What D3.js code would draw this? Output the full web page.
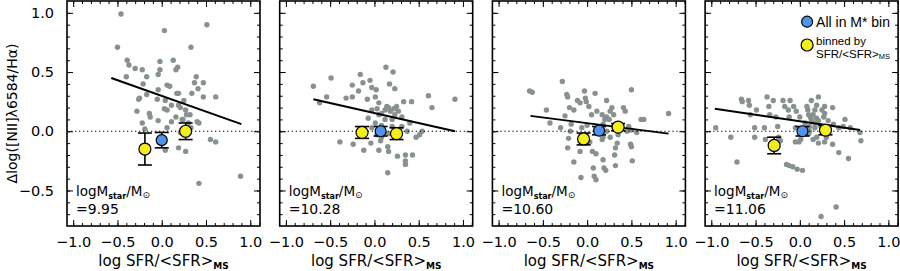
<!DOCTYPE html>
<html>
<head>
<meta charset="utf-8">
<script src="https://cdn.jsdelivr.net/npm/d3@7"></script>
<style>
body { margin: 0; background: #fff; }
</style>
</head>
<body>
<div id="chart"></div>
<script>
// svg parameters
var svgWidth = 900;
var svgHeight = 271;

var padding = {"left": 67, "top": 1};
var panelWidth = 193;
var panelHeight = 225;
var panelStep = 212.7;

// data
var massLabels = ["9.95", "10.28", "10.60", "11.06"];

var xTicks = [-1.0, -0.5, 0.0, 0.5, 1.0];
var yTicks = [-0.5, 0.0, 0.5, 1.0];

var scatter1 = [[-0.46,0.99],[-0.50,0.71],[-0.39,0.60],[-0.37,0.56],[-0.30,0.53],[-0.22,0.52],[-0.40,0.46],[-0.17,0.46],
	[-0.02,0.59],[-0.02,0.52],[0.03,0.85],[0.13,0.60],[0.16,0.52],[0.18,0.54],[0.33,0.71],[0.51,0.90],[-0.04,0.48],
	[0.06,0.39],[0.09,0.38],[-0.04,0.35],[0.19,0.32],[0.39,0.46],[0.47,0.41],[0.41,0.36],[0.61,0.29],[-0.21,0.40],
	[-0.17,0.31],[-0.25,0.28],[-0.28,0.17],[-0.14,0.15],[-0.13,0.12],[-0.04,0.09],[0.04,0.26],[0.06,0.18],[0.11,0.22],
	[0.06,0.03],[0.04,-0.16],[0.19,0.22],[0.21,0.20],[0.27,0.18],[0.28,0.14],[0.32,0.14],[0.24,0.10],[0.30,0.07],
	[0.40,0.08],[0.19,-0.14],[0.27,-0.17],[0.55,-0.07],[0.61,-0.09],[0.42,-0.44],[0.34,0.32],[0.47,0.29],[-0.19,0.02],
	[-0.22,0.07],[-0.05,0.27],[0.03,0.19],[0.17,0.32],[0.37,0.41],[0.42,0.07],[0.89,-0.38],[-0.26,0.27],[0.11,0.08],
	[0.16,0.12],[0.23,0.10],[0.21,-0.01],[0.33,0.03],[0.25,0.26]];

var scatter2 = [[-0.69,0.38],[-0.62,0.24],[-0.54,0.29],[-0.49,0.45],[-0.32,0.28],[-0.25,0.29],[-0.25,0.39],[-0.18,0.34],
	[-0.16,0.48],[-0.13,0.41],[-0.08,0.27],[-0.05,0.43],[-0.03,0.37],[0.02,0.35],[0.13,0.54],[0.21,0.50],[0.17,0.40],
	[0.23,0.36],[0.33,0.25],[0.42,0.25],[0.61,0.30],[0.65,0.20],[0.91,0.27],[-0.39,-0.09],[-0.24,-0.11],[-0.12,-0.16],
	[-0.04,-0.10],[0.05,-0.16],[0.07,-0.08],[0.15,-0.13],[0.16,-0.17],[0.26,-0.21],[0.35,-0.20],[0.35,-0.25],[0.35,-0.28],
	[0.43,-0.20],[0.15,-0.35],[0.47,-0.05],[0.51,-0.03],[0.54,0.00],[-0.03,0.18],[0.03,0.19],[0.05,0.14],[0.08,0.15],
	[0.12,0.18],[0.16,0.20],[0.18,0.17],[0.22,0.19],[0.23,0.14],[0.27,0.17],[0.31,0.12],[0.20,0.10],[0.12,0.10],
	[0.08,0.05],[0.01,0.07],[-0.07,0.11],[-0.03,0.03],[0.03,-0.03],[0.08,-0.05],[0.16,-0.02],[0.20,0.04],[0.31,0.04],
	[0.37,0.00],[0.40,0.07],[0.05,0.24],[0.14,0.21],[0.25,0.21],[0.01,0.29]];

var scatter3 = [[-0.65,0.34],[-0.62,0.33],[-0.46,0.18],[-0.42,0.07],[-0.28,0.42],[-0.23,0.31],[-0.22,0.29],[-0.20,0.20],
	[-0.15,0.18],[-0.11,0.26],[-0.08,0.24],[-0.03,0.34],[-0.02,0.28],[-0.01,0.25],[0.09,0.32],[0.50,0.35],[0.41,0.20],
	[0.43,0.17],[0.61,0.10],[0.64,0.10],[0.92,0.15],[-0.25,0.13],[-0.18,0.06],[-0.30,0.03],[-0.22,-0.14],[-0.15,-0.26],
	[-0.07,-0.39],[0.06,-0.17],[0.10,-0.19],[0.08,-0.38],[0.10,-0.41],[0.18,-0.24],[0.19,-0.31],[0.21,-0.33],[0.31,-0.20],
	[0.32,-0.14],[0.49,-0.11],[0.50,-0.13],[0.51,-0.25],[0.32,-0.29],[0.07,-0.31],[0.02,0.21],[0.05,0.14],[0.11,0.17],
	[0.17,0.14],[0.22,0.12],[0.26,0.17],[0.30,0.14],[0.25,0.10],[0.20,0.10],[0.18,0.06],[0.30,0.04],[0.00,0.05],
	[-0.06,0.03],[0.22,0.00],[0.26,-0.05],[0.18,-0.05],[0.03,-0.09],[0.17,-0.07],[0.35,-0.03],[0.45,0.00],[0.50,0.01],
	[0.56,-0.01],[0.47,0.04],[0.22,0.26],[0.28,0.20],[-0.19,0.00],[-0.21,-0.06],[0.34,-0.10],[-0.08,-0.17]];

var scatter4 = [[-0.95,0.03],[-0.78,-0.05],[-0.71,-0.26],[-0.66,0.27],[-0.65,0.25],[-0.58,0.26],[-0.57,0.22],[-0.56,0.14],
	[-0.51,0.03],[-0.51,-0.05],[-0.49,0.18],[-0.40,0.03],[-0.39,-0.07],[-0.37,0.29],[-0.35,0.21],[-0.34,0.14],[-0.30,0.26],
	[-0.27,0.12],[-0.25,0.04],[-0.24,-0.05],[-0.22,-0.08],[-0.19,0.26],[-0.17,0.21],[-0.13,0.18],[-0.11,0.26],[-0.07,0.21],
	[-0.12,0.12],[-0.15,-0.28],[-0.12,-0.29],[-0.08,-0.30],[-0.03,-0.32],[0.03,-0.33],[-0.01,-0.09],[-0.05,-0.09],
	[0.01,-0.07],[0.06,0.07],[0.08,0.21],[0.09,0.18],[0.13,0.26],[0.21,0.29],[0.28,0.21],[0.37,0.20],[0.37,-0.11],
	[0.44,-0.18],[0.51,0.10],[0.55,-0.23],[0.57,0.03],[0.68,-0.01],[0.69,-0.08],[0.24,-0.72],[0.41,-0.64],[0.28,-0.09],
	[0.30,-0.05],[0.19,-0.05],[0.15,-0.07],[0.21,-0.10],[0.10,-0.02],[0.10,0.14],[0.12,0.12],[0.13,0.10],[0.15,0.14],
	[0.19,0.11],[0.21,0.09],[0.17,0.07],[0.23,0.05],[0.27,0.12],[0.28,0.15],[0.25,0.18],[0.17,0.18],[0.19,0.22],
	[0.11,0.04],[0.17,0.03],[0.25,0.04],[0.11,0.00],[0.32,0.09],[0.38,0.06],[0.44,0.03],[0.49,0.04],[0.00,0.12],
	[-0.04,0.17],[-0.05,0.03]];

// fit line end points per panel
var fitLines = [[[-0.57,0.45],[0.90,0.06]], [[-0.69,0.27],[0.91,0.00]], [[-0.64,0.13],[0.92,-0.02]], [[-0.96,0.19],[0.68,0.01]]];

// [x, y, err]
var allBin = [[0.00,-0.075,0.065], [0.07,0.00,0.04], [0.135,0.005,0.035], [0.03,0.00,0.04]];
var sfrBins = [
	[[-0.19,-0.15,0.135], [0.27,0.00,0.07]],
	[[-0.14,-0.01,0.05], [0.25,-0.02,0.05]],
	[[-0.04,-0.065,0.05], [0.35,0.035,0.03]],
	[[-0.29,-0.12,0.07], [0.29,0.01,0.04]]
];

var scatters = [scatter1, scatter2, scatter3, scatter4];

var xMinor = d3.range(-10, 12).map(function(d) { return d / 10; });
var yMinor = d3.range(-7, 11).map(function(d) { return d / 10; });

var gray = "#879290";
var blue = "#4f94ec";
var yellow = "#f4ef1c";
var tickFont = "DejaVu Sans";
var textFont = "Liberation Sans";

var svg = d3.select("#chart").append("svg")
	.attr("width", svgWidth)
	.attr("height", svgHeight);

var xScale = d3.scaleLinear().domain([-1.07, 1.11]).range([0, panelWidth]);
var yScale = d3.scaleLinear().domain([-0.8, 1.1]).range([panelHeight, 0]);

var line = d3.line()
	.x(function(d) { return xScale(d[0]); })
	.y(function(d) { return yScale(d[1]); });

function styleAxis(a) {
	a.select(".domain").remove();
	a.selectAll("line").attr("stroke", "black").attr("stroke-width", 1);
	a.attr("font-family", tickFont).attr("font-size", 14.5);
	a.selectAll("text").attr("fill", "black");
}

function drawErr(g, d, r, fill) {
	var cap = 7;
	var bar = g.append("g");
	bar.append("line")
		.attr("x1", xScale(d[0])).attr("x2", xScale(d[0]))
		.attr("y1", yScale(d[1] + d[2])).attr("y2", yScale(d[1] - d[2]))
		.attr("stroke", "black").attr("stroke-width", 1.6);
	[d[1] + d[2], d[1] - d[2]].forEach(function(v) {
		bar.append("line")
			.attr("x1", xScale(d[0]) - cap).attr("x2", xScale(d[0]) + cap)
			.attr("y1", yScale(v)).attr("y2", yScale(v))
			.attr("stroke", "black").attr("stroke-width", 1.6);
	});
	bar.append("circle")
		.attr("cx", xScale(d[0]))
		.attr("cy", yScale(d[1]))
		.attr("r", r)
		.attr("fill", fill)
		.attr("stroke", "black")
		.attr("stroke-width", 1.2);
}

for (var i = 0; i < 4; i++) {
	var g = svg.append("g")
		.attr("transform", "translate(" + (padding.left + i * panelStep) + "," + padding.top + ")");

	// gray points
	g.selectAll("circle.pt")
		.data(scatters[i])
		.enter()
		.append("circle")
		.attr("class", "pt")
		.attr("cx", function(d) { return xScale(d[0]); })
		.attr("cy", function(d) { return yScale(d[1]); })
		.attr("r", 2.7)
		.attr("fill", gray);

	// fit
	g.append("path")
		.datum(fitLines[i])
		.attr("d", line)
		.attr("fill", "none")
		.attr("stroke", "black")
		.attr("stroke-width", 2);

	// zero line
	g.append("line")
		.attr("x1", 0).attr("x2", panelWidth)
		.attr("y1", yScale(0)).attr("y2", yScale(0))
		.attr("stroke", "black")
		.attr("stroke-width", 1.2)
		.attr("stroke-dasharray", "1.3,2.7");

	drawErr(g, allBin[i], 5.5, blue);
	sfrBins[i].forEach(function(d) { drawErr(g, d, 6, yellow); });

	// Axis
	g.append("g").attr("transform", "translate(0," + panelHeight + ")")
		.call(d3.axisBottom(xScale).tickValues(xTicks).tickSize(-6).tickPadding(11).tickFormat(d3.format(".1f")))
		.call(styleAxis);
	g.append("g").attr("transform", "translate(0," + panelHeight + ")")
		.call(d3.axisBottom(xScale).tickValues(xMinor).tickSize(-3).tickFormat(""))
		.call(styleAxis);
	g.append("g")
		.call(d3.axisTop(xScale).tickValues(xTicks).tickSize(-6).tickFormat(""))
		.call(styleAxis);
	g.append("g")
		.call(d3.axisTop(xScale).tickValues(xMinor).tickSize(-3).tickFormat(""))
		.call(styleAxis);
	g.append("g")
		.call(d3.axisLeft(yScale).tickValues(yTicks).tickSize(-6).tickPadding(13)
			.tickFormat(i == 0 ? d3.format(".1f") : ""))
		.call(styleAxis);
	g.append("g")
		.call(d3.axisLeft(yScale).tickValues(yMinor).tickSize(-3).tickFormat(""))
		.call(styleAxis);
	g.append("g").attr("transform", "translate(" + panelWidth + ",0)")
		.call(d3.axisRight(yScale).tickValues(yTicks).tickSize(-6).tickFormat(""))
		.call(styleAxis);
	g.append("g").attr("transform", "translate(" + panelWidth + ",0)")
		.call(d3.axisRight(yScale).tickValues(yMinor).tickSize(-3).tickFormat(""))
		.call(styleAxis);

	g.append("rect")
		.attr("width", panelWidth)
		.attr("height", panelHeight)
		.attr("fill", "none")
		.attr("stroke", "black")
		.attr("stroke-width", 1.6);

	// x label
	var xl = g.append("text")
		.attr("x", panelWidth / 2)
		.attr("y", 265)
		.attr("text-anchor", "middle")
		.attr("font-family", tickFont)
		.attr("font-size", 15)
		.text("log SFR/<SFR>");
	xl.append("tspan").attr("font-size", 9).attr("font-weight", "bold").attr("dy", 3).text("MS");

	// mass annotation
	var ann = g.append("text")
		.attr("x", 9)
		.attr("y", 195)
		.attr("font-family", tickFont)
		.attr("font-size", 13.5);
	ann.append("tspan").text("logM");
	ann.append("tspan").attr("font-size", 8).attr("font-weight", "bold").attr("dy", 2.5).text("star");
	ann.append("tspan").attr("dy", -2.5).text("/M");
	ann.append("tspan").attr("font-size", 9).attr("dy", 2).text("\u2299");
	g.append("text")
		.attr("x", 9)
		.attr("y", 213)
		.attr("font-family", tickFont)
		.attr("font-size", 14)
		.text("=" + massLabels[i]);

	if (i == 0) {
		g.append("text")
			.attr("transform", "translate(-50," + (panelHeight / 2) + ") rotate(-90)")
			.attr("text-anchor", "middle")
			.attr("font-family", tickFont)
			.attr("font-size", 14)
			.text("\u0394log([NII]\u03bb6584/H\u03b1)");
	}

	if (i == 3) {
		// legend
		g.append("circle").attr("cx", 102).attr("cy", 20.7).attr("r", 5.5)
			.attr("fill", blue).attr("stroke", "black").attr("stroke-width", 1.2);
		g.append("text").attr("x", 111).attr("y", 25.5)
			.attr("font-family", textFont).attr("font-size", 14)
			.text("All in M* bin");
		g.append("circle").attr("cx", 102).attr("cy", 44).attr("r", 6)
			.attr("fill", yellow).attr("stroke", "black").attr("stroke-width", 1.2);
		g.append("text").attr("x", 111).attr("y", 44)
			.attr("font-family", textFont).attr("font-size", 11.5)
			.text("binned by");
		var lg = g.append("text").attr("x", 111).attr("y", 56.5)
			.attr("font-family", textFont).attr("font-size", 11.5)
			.text("SFR/<SFR>");
		lg.append("tspan").attr("font-size", 7.5).attr("dy", 1.5).text("MS");
	}
}
</script>
</body>
</html>
